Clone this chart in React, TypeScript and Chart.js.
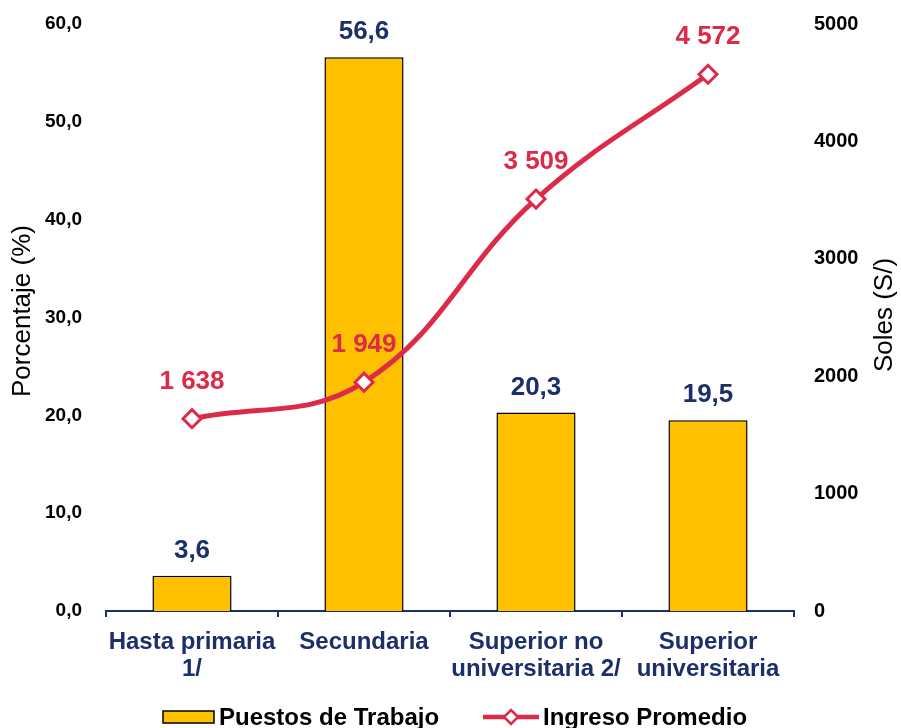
import React, { useEffect, useRef } from "react";
import { Chart, registerables } from "chart.js";

Chart.register(...registerables);

const categories: string[][] = [
  ["Hasta primaria", "1/"],
  ["Secundaria"],
  ["Superior no", "universitaria 2/"],
  ["Superior", "universitaria"],
];
const puestos: number[] = [3.6, 56.6, 20.3, 19.5];
const ingreso: number[] = [1638, 1949, 3509, 4572];
const leftTicks = { min: 0, max: 60, step: 10 };
const rightTicks = { min: 0, max: 5000, step: 1000 };
const seriesNames = ["Puestos de Trabajo", "Ingreso Promedio"];
const axisTitles = ["Porcentaje (%)", "Soles (S/)"];

const NAVY = "#1B2F6B";
const RED = "#DD2A48";
const YELLOW = "#FFC000";
const FONT = "'Liberation Sans', Arial, sans-serif";

const fmtPct = (v: number) => v.toFixed(1).replace(".", ",");
const fmtSoles = (v: number) => {
  const s = Math.round(v).toString();
  return s.replace(/\B(?=(\d{3})+(?!\d))/g, " ");
};

const overlayPlugin = {
  id: "overlay",
  afterDatasetsDraw(chart: any) {
    const ctx = chart.ctx as CanvasRenderingContext2D;
    ctx.save();
    ctx.textAlign = "center";
    ctx.textBaseline = "middle";
    const barMeta = chart.getDatasetMeta(0);
    ctx.font = `bold 26px ${FONT}`;
    ctx.fillStyle = NAVY;
    barMeta.data.forEach((el: any, i: number) => {
      ctx.fillText(fmtPct(puestos[i]), el.x, el.y - 25);
    });
    const lineMeta = chart.getDatasetMeta(1);
    ctx.fillStyle = RED;
    lineMeta.data.forEach((el: any, i: number) => {
      ctx.fillText(fmtSoles(ingreso[i]), el.x, el.y - 37);
    });
    ctx.restore();
  },
  afterDraw(chart: any) {
    const ctx = chart.ctx as CanvasRenderingContext2D;
    ctx.save();
    ctx.font = `26px ${FONT}`;
    ctx.fillStyle = "#000";
    ctx.textAlign = "center";
    ctx.textBaseline = "middle";
    ctx.translate(23, 311);
    ctx.rotate(-Math.PI / 2);
    ctx.fillText(axisTitles[0], 0, 0);
    ctx.restore();
    ctx.save();
    ctx.font = `26px ${FONT}`;
    ctx.fillStyle = "#000";
    ctx.textAlign = "center";
    ctx.textBaseline = "middle";
    ctx.translate(885, 315);
    ctx.rotate(-Math.PI / 2);
    ctx.fillText(axisTitles[1], 0, 0);
    ctx.restore();

    // legend
    ctx.save();
    const ly = 717;
    ctx.fillStyle = YELLOW;
    ctx.strokeStyle = "#000";
    ctx.lineWidth = 1.5;
    ctx.fillRect(163, ly - 6, 51, 12);
    ctx.strokeRect(163, ly - 6, 51, 12);
    ctx.font = `bold 24px ${FONT}`;
    ctx.fillStyle = "#000";
    ctx.textAlign = "left";
    ctx.textBaseline = "middle";
    ctx.fillText(seriesNames[0], 219, ly + 1);
    ctx.strokeStyle = RED;
    ctx.lineWidth = 4.5;
    ctx.beginPath();
    ctx.moveTo(483, ly);
    ctx.lineTo(539, ly);
    ctx.stroke();
    ctx.fillStyle = "#fff";
    ctx.lineWidth = 2.5;
    ctx.beginPath();
    ctx.moveTo(511, ly - 7);
    ctx.lineTo(518, ly);
    ctx.lineTo(511, ly + 7);
    ctx.lineTo(504, ly);
    ctx.closePath();
    ctx.fill();
    ctx.stroke();
    ctx.fillStyle = "#000";
    ctx.fillText(seriesNames[1], 543, ly + 1);
    ctx.restore();
  },
};

export default function App() {
  const ref = useRef<HTMLCanvasElement | null>(null);
  useEffect(() => {
    if (!ref.current) return;
    const chart = new Chart(ref.current, {
      type: "bar",
      data: {
        labels: categories,
        datasets: [
          {
            type: "bar",
            label: seriesNames[0],
            data: puestos,
            backgroundColor: YELLOW,
            borderColor: "#000",
            borderWidth: 1.5,
            yAxisID: "y",
            barPercentage: 0.46,
            categoryPercentage: 1,
            order: 2,
          },
          {
            type: "line",
            label: seriesNames[1],
            data: ingreso,
            borderColor: RED,
            borderWidth: 5,
            tension: 0.4,
            pointStyle: "rectRot",
            pointRadius: 9,
            pointBackgroundColor: "#fff",
            pointBorderColor: RED,
            pointBorderWidth: 3,
            yAxisID: "y1",
            order: 1,
          } as any,
        ],
      },
      options: {
        responsive: false,
        animation: false,
        layout: { padding: { top: 24, left: 0, right: 0, bottom: 0 } },
        plugins: {
          legend: { display: false },
          tooltip: { enabled: false },
        },
        scales: {
          x: {
            offset: true,
            grid: {
              display: true,
              drawOnChartArea: false,
              drawTicks: true,
              tickLength: 6,
              color: NAVY,
              lineWidth: 2,
              offset: true,
            },
            border: { display: true, color: NAVY, width: 2 },
            ticks: {
              color: NAVY,
              font: { family: FONT, size: 24, weight: "bold", lineHeight: 1.125 },
              padding: 12,
              maxRotation: 0,
              autoSkip: false,
            },
            afterFit: (s: any) => {
              s.height = 117;
              s.paddingLeft = 0;
              s.paddingRight = 0;
            },
          },
          y: {
            position: "left",
            min: leftTicks.min,
            max: leftTicks.max,
            grid: { display: false },
            border: { display: false },
            ticks: {
              stepSize: leftTicks.step,
              color: "#000",
              font: { family: FONT, size: 19, weight: "bold" },
              padding: 16,
              callback: (v: any) => fmtPct(Number(v)),
            },
            afterFit: (s: any) => {
              s.width = 106;
              s.paddingTop = 0;
              s.paddingBottom = 0;
            },
          },
          y1: {
            position: "right",
            min: rightTicks.min,
            max: rightTicks.max,
            grid: { display: false },
            border: { display: false },
            ticks: {
              stepSize: rightTicks.step,
              color: "#000",
              font: { family: FONT, size: 20, weight: "bold" },
              padding: 12,
              callback: (v: any) => String(v),
            },
            afterFit: (s: any) => {
              s.width = 107;
              s.paddingTop = 0;
              s.paddingBottom = 0;
            },
          },
        },
      } as any,
      plugins: [overlayPlugin],
    });
    return () => chart.destroy();
  }, []);
  return (
    <div style={{ position: "absolute", left: 0, top: 0, width: 901, height: 728, background: "#fff" }}>
      <canvas ref={ref} width={901} height={728} />
    </div>
  );
}
